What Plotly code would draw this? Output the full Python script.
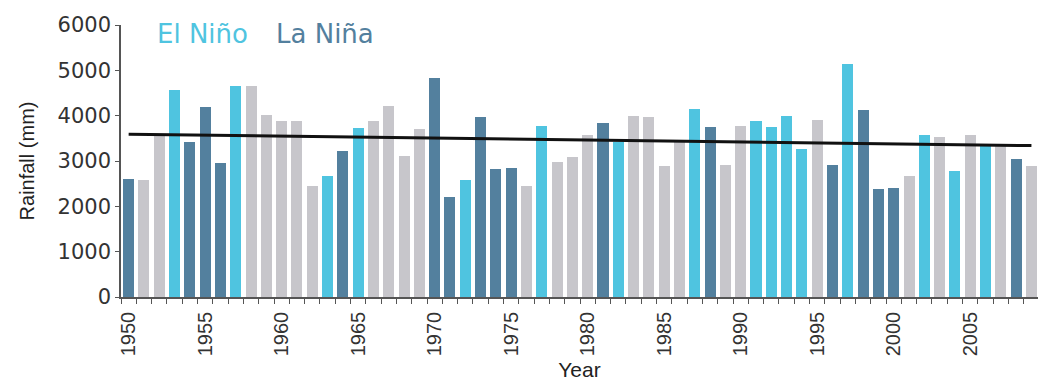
import plotly.graph_objects as go

# Annual rainfall, 1950-2009
years = list(range(1950, 2010))
rainfall_mm = [
    2600, 2585, 3580, 4560, 3430, 4190, 2950, 4660, 4650, 4020,
    3875, 3875, 2450, 2660, 3210, 3730, 3875, 4210, 3100, 3705,
    4830, 2215, 2585, 3970, 2820, 2840, 2450, 3780, 2970, 3090,
    3580, 3840, 3430, 3985, 3970, 2880, 3470, 4150, 3740, 2920,
    3765, 3875, 3740, 4000, 3270, 3910, 2915, 5150, 4130, 2385,
    2415, 2675, 3580, 3520, 2785, 3565, 3340, 3380, 3050, 2895,
]
# ENSO phase of each year: E = El Niño, L = La Niña, N = neutral
phase = list(
    "LNNELLLENN"
    "NNNELENNNN"
    "LLELLLNENN"
    "NLENNNNELN"
    "NEEEENLELL"
    "LNENENENLN"
)
# Linear trend end points (1950, 2009)
trend_years = [1950, 2009]
trend_mm = [3590, 3340]

legend_labels = ["El Niño", "La Niña"]
y_ticks = [0, 1000, 2000, 3000, 4000, 5000, 6000]
x_label_years = list(range(1950, 2010, 5))

phase_colors = {"E": "#4FC4E0", "L": "#53809E", "N": "#C7C6CB"}
bar_colors = [phase_colors[p] for p in phase]

fig = go.Figure()
fig.add_trace(go.Bar(
    x=years, y=rainfall_mm, width=0.72,
    marker=dict(color=bar_colors, line=dict(width=0)),
    showlegend=False,
))
fig.add_trace(go.Scatter(
    x=trend_years, y=trend_mm, mode="lines",
    line=dict(color="#111111", width=3), showlegend=False,
))

# Phase labels in the top-left corner
fig.add_annotation(x=1951.7, y=5800, xref="x", yref="y", text=legend_labels[0],
                   showarrow=False, xanchor="left", yanchor="middle",
                   font=dict(family="DejaVu Sans", size=26, color=phase_colors["E"]))
fig.add_annotation(x=1959.5, y=5800, xref="x", yref="y", text=legend_labels[1],
                   showarrow=False, xanchor="left", yanchor="middle",
                   font=dict(family="DejaVu Sans", size=26, color=phase_colors["L"]))

axis_font = dict(family="DejaVu Sans", size=21, color="#333333")

fig.update_xaxes(
    range=[1949.5, 2009.43],
    tickmode="array", tickvals=x_label_years, ticktext=[str(y) for y in x_label_years],
    tickangle=-90, ticks="outside", ticklen=5, tickcolor="rgba(0,0,0,0)",
    tickfont=dict(family="Liberation Sans", size=20, color="#333333"),
    minor=dict(tickmode="array", tickvals=[y - 0.5 for y in years] + [2009.5],
               ticks="outside", ticklen=5, tickcolor="#555555", tickwidth=1.2, showgrid=False),
    showline=True, linecolor="#555555", linewidth=1.5,
    showgrid=False, zeroline=False,
    title=dict(text="Year", font=dict(family="Liberation Sans", size=21, color="#222222"), standoff=7),
)
fig.update_yaxes(
    range=[0, 6000],
    tickmode="array", tickvals=y_ticks, ticktext=[str(v) for v in y_ticks],
    ticks="outside", ticklen=4, tickcolor="#555555", tickwidth=1.2,
    tickfont=axis_font,
    showline=True, linecolor="#555555", linewidth=1.5,
    showgrid=False, zeroline=False,
    title=dict(text="Rainfall (mm)", font=dict(family="Liberation Sans", size=20, color="#222222"), standoff=18),
)

fig.update_layout(
    width=1038, height=385,
    margin=dict(l=121, r=0, t=25, b=88),
    plot_bgcolor="white", paper_bgcolor="white",
    bargap=0,
)

fig.write_html("out.html")
